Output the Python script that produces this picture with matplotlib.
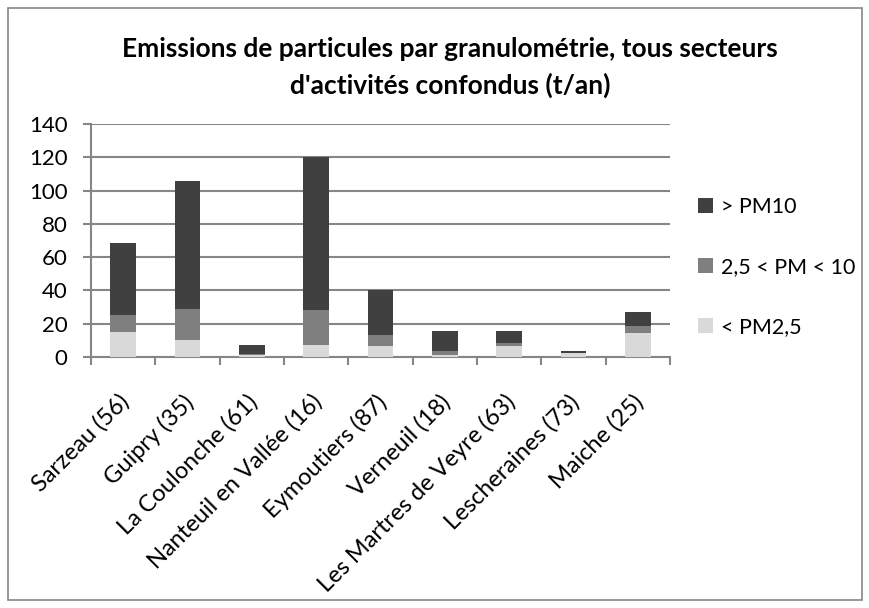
import matplotlib
matplotlib.use("Agg")
import matplotlib.pyplot as plt
import matplotlib.transforms as mtransforms
import numpy as np
from matplotlib.patches import Rectangle

communes = ["Sarzeau (56)", "Guipry (35)", "La Coulonche (61)", "Nanteuil en Vallée (16)",
            "Eymoutiers (87)", "Verneuil (18)", "Les Martres de Veyre (63)",
            "Lescheraines (73)", "Maiche (25)"]
pm25 = [15.0, 10.0, 1.0, 7.5, 6.6, 1.0, 6.8, 2.2, 14.7]
pm25_10 = [10.5, 19.0, 1.0, 20.5, 6.7, 2.6, 1.8, 0.5, 4.0]
pm10_plus = [43.0, 76.5, 5.5, 92.0, 27.0, 12.0, 7.0, 1.0, 8.6]

plt.rcParams["font.family"] = ["Lato", "DejaVu Sans"]

fig = plt.figure(figsize=(8.7, 6.08), dpi=100)
fig.patches.append(Rectangle((8 / 870, 8 / 608), 854 / 870, 592 / 608,
                             transform=fig.transFigure, fill=False,
                             edgecolor="#868686", linewidth=1.2))

ax = fig.add_axes([91 / 870, (608 - 357) / 608, 579 / 870, 233 / 608])
x = np.arange(len(communes))
w = 0.4
b1 = ax.bar(x, pm25, w, color="#d9d9d9", label="< PM2,5", zorder=3)
bottom2 = np.array(pm25)
b2 = ax.bar(x, pm25_10, w, bottom=bottom2, color="#7f7f7f", label="2,5 < PM < 10", zorder=3)
bottom3 = bottom2 + np.array(pm25_10)
b3 = ax.bar(x, pm10_plus, w, bottom=bottom3, color="#404040", label="> PM10", zorder=3)

ax.set_xlim(-0.5, len(communes) - 0.5)
ax.set_ylim(0, 140)
ax.set_yticks(range(0, 141, 20))
ax.grid(axis="y", color="#868686", linewidth=1.5, zorder=0)
for side in ["top", "right"]:
    ax.spines[side].set_visible(False)
for side in ["left", "bottom"]:
    ax.spines[side].set_color("#868686")
    ax.spines[side].set_linewidth(1.5)

ax.set_xticks(x)
ax.set_xticklabels(communes, rotation=45, ha="right", rotation_mode="anchor", fontsize=17)
ax.tick_params(axis="x", length=0, pad=12)
ax.set_xticks(np.arange(-0.5, len(communes)), minor=True)
ax.tick_params(axis="x", which="minor", length=6, color="#868686", width=1.5)
ax.tick_params(axis="y", labelsize=16, length=6, color="#868686", width=1.5, pad=11)

# decale les etiquettes inclinees vers le bas a gauche, comme dans Excel
shift = mtransforms.ScaledTranslation(-0.05, -0.17, fig.dpi_scale_trans)
for lab in ax.get_xticklabels():
    lab.set_transform(lab.get_transform() + shift)

fig.text(450 / 870, 1 - 49 / 608, "Emissions de particules par granulométrie, tous secteurs",
         ha="center", va="center", fontsize=19, fontweight="bold")
fig.text(450 / 870, 1 - 85 / 608, "d'activités confondus (t/an)",
         ha="center", va="center", fontsize=19, fontweight="bold")

fig.legend(handles=[b3, b2, b1], loc="center left", bbox_to_anchor=(698 / 870, 1 - 267 / 608),
           frameon=False, fontsize=15.5, labelspacing=1.85, handlelength=0.7,
           handleheight=0.7, handletextpad=0.35, borderpad=0, borderaxespad=0)

fig.savefig("out.png", dpi=100)
